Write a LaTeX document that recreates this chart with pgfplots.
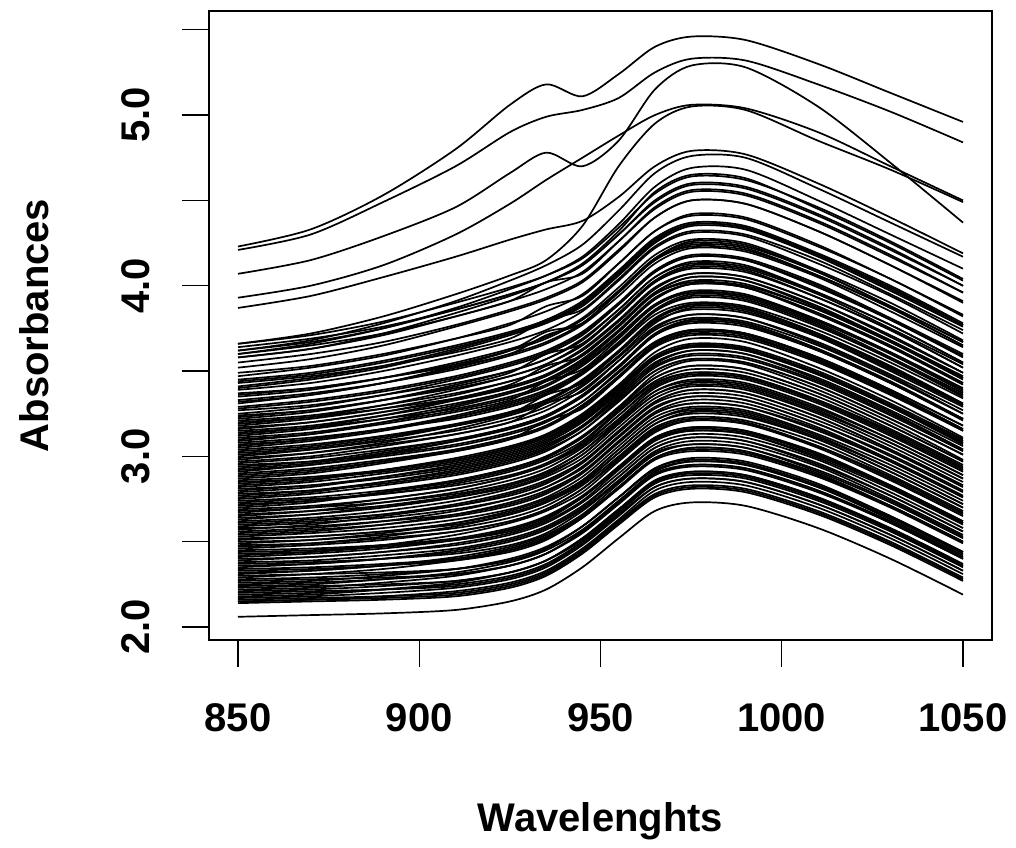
\documentclass[border=0pt]{standalone}
\usepackage{fontspec}
\setmainfont{Liberation Sans}
\usepackage{pgfplots}
\usepackage{pgfplotstable}
\pgfplotsset{compat=1.18}

% one row per spectrum, one column per wavelength
\pgfplotstableread[header=has colnames]{
850 870 890 910 925 935 945 955 965 975 990 1010 1030 1050
2.06 2.07 2.08 2.10 2.15 2.22 2.35 2.52 2.68 2.73 2.71 2.58 2.40 2.19
2.14 2.15 2.16 2.18 2.23 2.30 2.43 2.60 2.76 2.81 2.79 2.66 2.48 2.27
2.15 2.16 2.18 2.21 2.26 2.33 2.46 2.63 2.80 2.85 2.83 2.70 2.52 2.31
2.16 2.17 2.18 2.20 2.25 2.32 2.45 2.62 2.78 2.83 2.81 2.68 2.50 2.29
2.17 2.18 2.20 2.23 2.28 2.35 2.48 2.65 2.82 2.87 2.85 2.72 2.54 2.33
2.18 2.19 2.22 2.26 2.32 2.39 2.51 2.68 2.85 2.91 2.89 2.76 2.57 2.36
2.20 2.21 2.22 2.24 2.29 2.36 2.49 2.66 2.82 2.87 2.85 2.72 2.54 2.33
2.21 2.22 2.24 2.27 2.32 2.39 2.52 2.69 2.86 2.91 2.89 2.76 2.58 2.37
2.22 2.23 2.26 2.30 2.36 2.43 2.55 2.72 2.89 2.95 2.93 2.80 2.61 2.40
2.23 2.24 2.25 2.27 2.32 2.39 2.52 2.69 2.85 2.90 2.88 2.75 2.57 2.36
2.25 2.26 2.28 2.31 2.36 2.43 2.56 2.73 2.90 2.95 2.93 2.80 2.62 2.41
2.26 2.27 2.30 2.34 2.40 2.47 2.59 2.76 2.93 2.99 2.97 2.84 2.65 2.44
2.28 2.29 2.31 2.34 2.39 2.46 2.59 2.76 2.93 2.98 2.96 2.83 2.65 2.44
2.29 2.31 2.34 2.39 2.45 2.52 2.64 2.82 2.99 3.05 3.03 2.89 2.71 2.50
2.30 2.31 2.32 2.34 2.39 2.46 2.59 2.76 2.92 2.97 2.95 2.82 2.64 2.43
2.32 2.33 2.36 2.40 2.46 2.53 2.65 2.82 2.99 3.05 3.03 2.90 2.71 2.50
2.33 2.34 2.36 2.39 2.44 2.51 2.64 2.81 2.98 3.03 3.01 2.88 2.70 2.49
2.35 2.37 2.40 2.45 2.51 2.58 2.70 2.88 3.05 3.11 3.09 2.95 2.77 2.56
2.36 2.37 2.40 2.44 2.50 2.57 2.69 2.86 3.03 3.09 3.07 2.94 2.75 2.54
2.37 2.38 2.40 2.43 2.48 2.55 2.68 2.85 3.02 3.07 3.05 2.92 2.74 2.53
2.39 2.41 2.44 2.49 2.55 2.62 2.74 2.92 3.09 3.15 3.13 2.99 2.81 2.60
2.40 2.41 2.44 2.48 2.54 2.61 2.73 2.90 3.07 3.13 3.11 2.98 2.79 2.58
2.42 2.44 2.48 2.54 2.61 2.68 2.79 2.97 3.14 3.21 3.19 3.05 2.86 2.65
2.43 2.44 2.47 2.51 2.57 2.64 2.76 2.93 3.10 3.16 3.14 3.01 2.82 2.61
2.45 2.46 2.48 2.51 2.56 2.63 2.76 2.93 3.10 3.15 3.13 3.00 2.82 2.61
2.46 2.48 2.51 2.56 2.62 2.69 2.81 2.99 3.16 3.22 3.20 3.06 2.88 2.67
2.48 2.49 2.52 2.56 2.62 2.69 2.81 2.98 3.15 3.21 3.19 3.06 2.87 2.66
2.49 2.51 2.55 2.61 2.68 2.75 2.86 3.04 3.21 3.28 3.26 3.12 2.93 2.72
2.51 2.53 2.56 2.61 2.67 2.74 2.86 3.04 3.21 3.27 3.25 3.11 2.93 2.72
2.52 2.53 2.56 2.60 2.66 2.73 2.85 3.02 3.19 3.25 3.23 3.10 2.91 2.70
2.54 2.56 2.60 2.66 2.73 2.80 2.91 3.09 3.26 3.33 3.31 3.17 2.98 2.77
2.55 2.57 2.60 2.65 2.71 2.78 2.90 3.08 3.25 3.31 3.29 3.15 2.97 2.76
2.57 2.60 2.65 2.71 2.78 2.85 2.97 3.14 3.32 3.39 3.37 3.23 3.04 2.83
2.58 2.59 2.62 2.66 2.72 2.79 2.91 3.08 3.25 3.31 3.29 3.16 2.97 2.76
2.60 2.62 2.66 2.72 2.79 2.86 2.97 3.15 3.32 3.39 3.37 3.23 3.04 2.83
2.61 2.63 2.66 2.71 2.77 2.84 2.96 3.14 3.31 3.37 3.35 3.21 3.03 2.82
2.63 2.66 2.71 2.77 2.84 2.91 3.03 3.20 3.38 3.45 3.43 3.29 3.10 2.89
2.64 2.66 2.70 2.76 2.83 2.90 3.01 3.19 3.36 3.43 3.41 3.27 3.08 2.87
2.66 2.68 2.71 2.76 2.82 2.89 3.01 3.19 3.36 3.42 3.40 3.26 3.08 2.87
2.67 2.70 2.75 2.81 2.88 2.95 3.07 3.24 3.42 3.49 3.47 3.33 3.14 2.93
2.69 2.71 2.75 2.81 2.88 2.95 3.06 3.24 3.41 3.48 3.46 3.32 3.13 2.92
2.70 2.73 2.79 2.86 2.93 3.00 3.12 3.29 3.48 3.56 3.54 3.39 3.20 2.98
2.72 2.74 2.78 2.84 2.91 2.98 3.09 3.27 3.44 3.51 3.49 3.35 3.16 2.95
2.73 2.75 2.78 2.83 2.89 2.96 3.08 3.26 3.43 3.49 3.47 3.33 3.15 2.94
2.75 2.78 2.83 2.89 2.96 3.03 3.15 3.32 3.50 3.57 3.55 3.41 3.22 3.01
2.76 2.79 2.85 2.92 2.99 3.06 3.18 3.35 3.54 3.62 3.60 3.45 3.26 3.04
2.78 2.80 2.84 2.90 2.97 3.04 3.15 3.33 3.50 3.57 3.55 3.41 3.22 3.01
2.80 2.83 2.88 2.94 3.01 3.08 3.20 3.37 3.55 3.62 3.60 3.46 3.27 3.06
2.81 2.83 2.87 2.93 3.00 3.07 3.18 3.36 3.53 3.60 3.58 3.44 3.25 3.04
2.83 2.86 2.92 2.99 3.06 3.13 3.25 3.42 3.61 3.69 3.67 3.52 3.33 3.11
2.84 2.87 2.92 2.98 3.05 3.12 3.24 3.41 3.59 3.66 3.64 3.50 3.31 3.10
2.86 2.88 2.92 2.98 3.05 3.12 3.23 3.41 3.58 3.65 3.63 3.49 3.30 3.09
2.87 2.90 2.96 3.03 3.10 3.21 3.28 3.46 3.65 3.73 3.71 3.56 3.37 3.15
2.89 2.92 2.97 3.03 3.10 3.17 3.29 3.46 3.64 3.71 3.69 3.55 3.36 3.15
2.91 2.95 3.01 3.09 3.17 3.24 3.35 3.52 3.71 3.80 3.78 3.63 3.43 3.22
2.92 2.95 3.00 3.06 3.13 3.20 3.32 3.49 3.67 3.74 3.72 3.58 3.39 3.18
2.94 2.97 3.03 3.10 3.17 3.24 3.36 3.53 3.72 3.80 3.78 3.63 3.44 3.22
2.95 2.97 3.01 3.07 3.14 3.21 3.32 3.50 3.67 3.74 3.72 3.58 3.39 3.18
2.97 3.00 3.06 3.13 3.20 3.31 3.38 3.56 3.75 3.83 3.81 3.66 3.47 3.25
2.99 3.02 3.07 3.13 3.20 3.27 3.39 3.56 3.74 3.81 3.79 3.65 3.46 3.25
3.00 3.04 3.10 3.18 3.26 3.33 3.44 3.61 3.80 3.89 3.87 3.72 3.52 3.31
3.02 3.05 3.11 3.18 3.25 3.32 3.44 3.61 3.80 3.88 3.86 3.71 3.52 3.30
3.04 3.07 3.12 3.18 3.25 3.36 3.43 3.61 3.79 3.86 3.84 3.70 3.51 3.30
3.05 3.09 3.15 3.23 3.31 3.38 3.49 3.66 3.85 3.94 3.92 3.77 3.57 3.36
3.07 3.10 3.16 3.23 3.30 3.37 3.49 3.66 3.85 3.93 3.91 3.76 3.57 3.35
3.09 3.13 3.20 3.29 3.37 3.44 3.55 3.73 3.92 4.01 3.99 3.83 3.64 3.42
3.10 3.13 3.19 3.26 3.33 3.44 3.51 3.69 3.88 3.96 3.94 3.79 3.60 3.38
3.12 3.16 3.22 3.30 3.38 3.45 3.56 3.73 3.92 4.01 3.99 3.84 3.64 3.43
3.14 3.17 3.22 3.28 3.35 3.42 3.54 3.71 3.89 3.96 3.94 3.80 3.61 3.40
3.16 3.20 3.26 3.34 3.42 3.53 3.59 3.77 3.96 4.05 4.03 3.88 3.68 3.47
3.17 3.20 3.26 3.33 3.40 3.47 3.59 3.76 3.95 4.03 4.01 3.86 3.67 3.45
3.19 3.23 3.30 3.39 3.47 3.54 3.65 3.83 4.02 4.11 4.09 3.93 3.74 3.52
3.21 3.24 3.30 3.37 3.44 3.51 3.63 3.80 3.99 4.07 4.05 3.90 3.71 3.49
3.23 3.27 3.33 3.41 3.49 3.60 3.66 3.84 4.03 4.12 4.10 3.95 3.75 3.54
3.25 3.29 3.36 3.45 3.53 3.60 3.71 3.89 4.08 4.17 4.15 3.99 3.80 3.58
3.27 3.30 3.36 3.43 3.50 3.57 3.69 3.86 4.05 4.13 4.11 3.96 3.77 3.55
3.29 3.33 3.39 3.47 3.55 3.62 3.73 3.90 4.09 4.18 4.16 4.01 3.81 3.60
3.31 3.36 3.43 3.53 3.62 3.73 3.78 3.97 4.16 4.26 4.24 4.08 3.88 3.67
3.33 3.37 3.43 3.51 3.59 3.66 3.77 3.94 4.13 4.22 4.20 4.05 3.85 3.64
3.35 3.39 3.46 3.55 3.63 3.70 3.81 3.99 4.18 4.27 4.25 4.09 3.90 3.68
3.37 3.40 3.46 3.53 3.60 3.71 3.78 3.96 4.15 4.23 4.21 4.06 3.87 3.65
3.39 3.43 3.50 3.59 3.67 3.74 3.85 4.03 4.22 4.31 4.29 4.13 3.94 3.72
3.41 3.46 3.53 3.63 3.72 3.79 3.89 4.07 4.26 4.36 4.34 4.18 3.98 3.77
3.43 3.47 3.53 3.61 3.69 3.80 3.86 4.04 4.23 4.32 4.30 4.15 3.95 3.74
3.45 3.49 3.56 3.65 3.73 3.80 3.91 4.09 4.28 4.37 4.35 4.19 4.00 3.78
3.47 3.52 3.59 3.69 3.78 3.85 3.95 4.13 4.32 4.42 4.40 4.24 4.04 3.83
3.49 3.53 3.60 3.69 3.77 3.88 3.94 4.13 4.32 4.41 4.39 4.23 4.04 3.82
3.52 3.57 3.65 3.76 3.85 3.92 4.02 4.20 4.40 4.50 4.48 4.32 4.12 3.90
3.55 3.60 3.67 3.77 3.86 3.93 4.03 4.21 4.40 4.50 4.48 4.32 4.12 3.91
3.58 3.63 3.71 3.82 3.91 4.02 4.07 4.26 4.46 4.56 4.54 4.38 4.18 3.96
3.60 3.65 3.72 3.82 3.91 3.98 4.08 4.26 4.45 4.55 4.53 4.37 4.17 3.96
3.62 3.67 3.75 3.86 3.95 4.02 4.12 4.30 4.50 4.60 4.58 4.42 4.22 4.00
3.64 3.69 3.76 3.86 3.95 4.02 4.12 4.30 4.49 4.59 4.57 4.41 4.21 4.00
3.66 3.71 3.79 3.90 3.99 4.06 4.16 4.34 4.54 4.64 4.62 4.46 4.26 4.04
2.15 2.16 2.17 2.19 2.24 2.31 2.44 2.61 2.77 2.82 2.80 2.67 2.49 2.28
2.19 2.20 2.22 2.25 2.30 2.37 2.50 2.67 2.84 2.89 2.87 2.74 2.56 2.35
2.24 2.25 2.28 2.32 2.38 2.45 2.57 2.74 2.91 2.97 2.95 2.82 2.63 2.42
2.27 2.28 2.29 2.31 2.36 2.43 2.56 2.73 2.89 2.94 2.92 2.79 2.61 2.40
2.31 2.33 2.36 2.41 2.47 2.54 2.66 2.84 3.01 3.07 3.05 2.91 2.73 2.52
2.34 2.35 2.37 2.40 2.45 2.52 2.65 2.82 2.99 3.04 3.02 2.89 2.71 2.50
2.38 2.39 2.42 2.46 2.52 2.59 2.71 2.88 3.05 3.11 3.09 2.96 2.77 2.56
2.41 2.43 2.46 2.51 2.57 2.64 2.76 2.94 3.11 3.17 3.15 3.01 2.83 2.62
2.44 2.45 2.48 2.52 2.58 2.65 2.77 2.94 3.11 3.17 3.15 3.02 2.83 2.62
2.47 2.49 2.53 2.59 2.66 2.73 2.84 3.02 3.19 3.26 3.24 3.10 2.91 2.70
2.50 2.51 2.54 2.58 2.64 2.71 2.83 3.00 3.17 3.23 3.21 3.08 2.89 2.68
2.53 2.55 2.58 2.63 2.69 2.76 2.88 3.06 3.23 3.29 3.27 3.13 2.95 2.74
2.56 2.58 2.62 2.68 2.75 2.82 2.93 3.11 3.28 3.35 3.33 3.19 3.00 2.79
2.59 2.61 2.64 2.69 2.75 2.82 2.94 3.12 3.29 3.35 3.33 3.19 3.01 2.80
2.62 2.64 2.68 2.74 2.81 2.88 2.99 3.17 3.34 3.41 3.39 3.25 3.06 2.85
2.65 2.68 2.73 2.79 2.86 2.93 3.05 3.22 3.40 3.47 3.45 3.31 3.12 2.91
2.68 2.70 2.73 2.78 2.84 2.91 3.03 3.21 3.38 3.44 3.42 3.28 3.10 2.89
2.71 2.74 2.79 2.85 2.92 2.99 3.11 3.28 3.46 3.53 3.51 3.37 3.18 2.97
2.74 2.76 2.80 2.86 2.93 3.00 3.11 3.29 3.46 3.53 3.51 3.37 3.18 2.97
2.77 2.80 2.85 2.91 2.98 3.05 3.17 3.34 3.52 3.59 3.57 3.43 3.24 3.03
2.79 2.82 2.88 2.95 3.02 3.09 3.21 3.38 3.57 3.65 3.63 3.48 3.29 3.07
2.82 2.85 2.90 2.96 3.03 3.10 3.22 3.39 3.57 3.64 3.62 3.48 3.29 3.08
2.85 2.87 2.91 2.97 3.04 3.11 3.22 3.40 3.57 3.64 3.62 3.48 3.29 3.08
2.88 2.91 2.97 3.04 3.11 3.18 3.30 3.47 3.66 3.74 3.72 3.57 3.38 3.16
2.90 2.93 2.98 3.04 3.11 3.18 3.30 3.47 3.65 3.72 3.70 3.56 3.37 3.16
2.93 2.96 3.02 3.09 3.16 3.23 3.35 3.52 3.71 3.79 3.77 3.62 3.43 3.21
2.96 2.99 3.04 3.10 3.17 3.24 3.36 3.53 3.71 3.78 3.76 3.62 3.43 3.22
2.98 3.02 3.08 3.16 3.24 3.31 3.42 3.59 3.78 3.87 3.85 3.70 3.50 3.29
3.01 3.04 3.09 3.15 3.22 3.29 3.41 3.58 3.76 3.83 3.81 3.67 3.48 3.27
3.03 3.06 3.12 3.19 3.26 3.33 3.45 3.62 3.81 3.89 3.87 3.72 3.53 3.31
3.06 3.10 3.16 3.24 3.32 3.39 3.50 3.67 3.86 3.95 3.93 3.78 3.58 3.37
3.08 3.11 3.16 3.22 3.29 3.36 3.48 3.65 3.83 3.90 3.88 3.74 3.55 3.34
3.11 3.14 3.20 3.27 3.34 3.41 3.53 3.70 3.89 3.97 3.95 3.80 3.61 3.39
3.13 3.17 3.24 3.33 3.41 3.48 3.59 3.77 3.96 4.05 4.03 3.87 3.68 3.46
3.15 3.18 3.24 3.31 3.38 3.45 3.57 3.74 3.93 4.01 3.99 3.84 3.65 3.43
3.18 3.22 3.28 3.36 3.44 3.51 3.62 3.79 3.98 4.07 4.05 3.90 3.70 3.49
3.20 3.23 3.28 3.34 3.41 3.48 3.60 3.77 3.95 4.02 4.00 3.86 3.67 3.46
3.22 3.26 3.33 3.42 3.50 3.57 3.68 3.86 4.05 4.14 4.12 3.96 3.77 3.55
3.24 3.27 3.33 3.40 3.47 3.54 3.66 3.83 4.02 4.10 4.08 3.93 3.74 3.52
3.28 3.32 3.38 3.46 3.54 3.61 3.72 3.89 4.08 4.17 4.15 4.00 3.80 3.59
3.32 3.36 3.43 3.52 3.60 3.67 3.78 3.96 4.15 4.24 4.22 4.06 3.87 3.65
3.36 3.40 3.46 3.54 3.62 3.69 3.80 3.97 4.16 4.25 4.23 4.08 3.88 3.67
3.40 3.45 3.52 3.62 3.71 3.78 3.88 4.06 4.25 4.35 4.33 4.17 3.97 3.76
3.44 3.48 3.55 3.64 3.72 3.79 3.90 4.08 4.27 4.36 4.34 4.18 3.99 3.77
3.58 3.63 3.72 3.84 3.94 4.02 4.13 4.32 4.55 4.65 4.63 4.45 4.25 4.03
3.60 3.66 3.75 3.87 3.98 4.06 4.17 4.36 4.58 4.69 4.68 4.50 4.30 4.10
3.62 3.68 3.78 3.91 4.03 4.12 4.24 4.44 4.66 4.76 4.75 4.57 4.37 4.17
3.87 3.94 4.05 4.17 4.27 4.33 4.38 4.52 4.70 4.79 4.77 4.60 4.40 4.19
3.66 3.72 3.82 3.95 4.06 4.15 4.35 4.70 4.95 5.05 5.03 4.85 4.68 4.49
3.93 4.00 4.12 4.30 4.48 4.62 4.75 4.88 5.00 5.06 5.04 4.90 4.70 4.50
4.07 4.15 4.29 4.46 4.66 4.78 4.70 4.85 5.15 5.29 5.28 5.05 4.72 4.37
4.21 4.30 4.49 4.70 4.90 4.99 5.03 5.10 5.25 5.33 5.32 5.18 5.02 4.84
4.23 4.33 4.53 4.80 5.06 5.18 5.11 5.24 5.40 5.46 5.44 5.30 5.13 4.96
}\spectrarows
% pgfplots draws columns, so turn the spectra into columns
\pgfplotstabletranspose{\spectra}{\spectrarows}
\pgfplotstablegetcolsof{\spectra}
\pgfmathtruncatemacro{\nspec}{\pgfplotsretval-1}

\begin{document}
\begin{tikzpicture}
\useasboundingbox (-104.5pt,-103.5pt) rectangle (403.5pt,320pt);
\begin{axis}[
  at={(0,0)}, anchor=south west,
  scale only axis,
  width=391.5pt, height=314.5pt,
  xmin=842, xmax=1058,
  ymin=1.924, ymax=5.61,
  axis line style={line width=0.6pt},
  tick style={line width=0.6pt, black},
  tick align=outside,
  tick pos=left,
  major tick length=13.5pt,
  xtick={850,900,950,1000,1050},
  xticklabels={850,900,950,1000,1050},
  ytick={2,2.5,3,3.5,4,4.5,5,5.5},
  yticklabels={2.0,,3.0,,4.0,,5.0,},
  xticklabel shift=32pt,
  yticklabel shift=16pt,
  xticklabel style={font=\fontsize{20}{24}\selectfont\bfseries, anchor=base},
  yticklabel style={font=\fontsize{20}{24}\selectfont\bfseries, rotate=90, anchor=base},
  every axis x label/.style={at={(axis description cs:0.5,-0.3052)}, anchor=base,
    font=\fontsize{20}{24}\selectfont\bfseries},
  every axis y label/.style={at={(axis description cs:-0.2056,0.5)}, rotate=90, anchor=base,
    font=\fontsize{20}{24}\selectfont\bfseries},
  xlabel={Wavelenghts},
  ylabel={Absorbances},
]
\pgfplotsinvokeforeach{1,...,\nspec}{
  \addplot[black, line width=0.85pt, smooth] table[x=colnames, y index=#1] {\spectra};
}
\end{axis}
\end{tikzpicture}
\end{document}
